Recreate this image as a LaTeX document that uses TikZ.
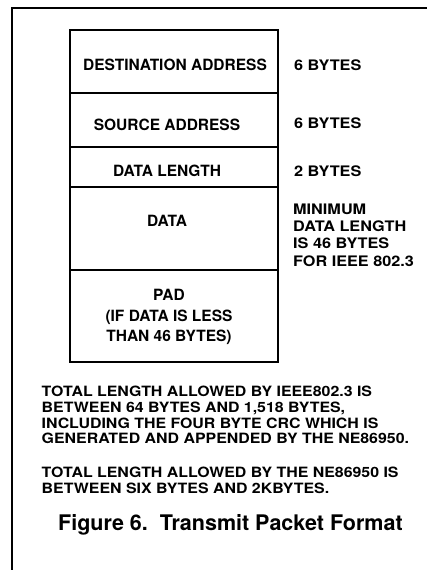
\documentclass[tikz,border=0pt]{standalone}
\usepackage{fontspec}
\setmainfont{TeX Gyre Heros}
\newfontfamily\widefont{TeX Gyre Heros}[FakeStretch=1.12]
\begin{document}
\begin{tikzpicture}[x=1pt, y=-1pt, line cap=rect]
	\tikzset{
		fieldtext/.style={font=\bfseries\fontsize{15.5}{20.5}\selectfont, inner sep=0pt, align=center},
		sidetext/.style={font=\widefont\bfseries\fontsize{14.5}{17.3}\selectfont, inner sep=0pt, align=left},
		notetext/.style={font=\widefont\bfseries\fontsize{14.2}{15.7}\selectfont, inner sep=0pt, align=left}
	}
	\useasboundingbox (0,0) rectangle (427,570);
	
	% Khung ngoài (chỉ cạnh trái và cạnh trên)
	\draw[line width=1.4pt] (12,570) -- (12,8) -- (427,8);
	
	% Các trường của gói tin
	\draw[line width=1.8pt] (70,30) rectangle (278,362);
	\foreach \yy in {93,147,187,270}
		\draw[line width=1.8pt] (70,\yy) -- (278,\yy);
	
	% Tên các trường
	\node[fieldtext, anchor=base] (dst) at (175,70.7) {DESTINATION ADDRESS};
	\node[fieldtext, anchor=base] (src) at (167,130) {SOURCE ADDRESS};
	\node[fieldtext, anchor=base] (len) at (167,176) {DATA LENGTH};
	\node[fieldtext, anchor=base] (data) at (167,226) {DATA};
	\node[fieldtext, anchor=north] (pad) at (169,289) {PAD\\(IF DATA IS LESS\\THAN 46 BYTES)};
	
	% Độ dài từng trường
	\node[sidetext, anchor=base west] (dstlen) at (294,70.7) {6 BYTES};
	\node[sidetext, anchor=base west] (srclen) at (294,128) {6 BYTES};
	\node[sidetext, anchor=base west] (lenlen) at (294,176) {2 BYTES};
	\node[sidetext, anchor=north west] (datamin) at (293,203.5) {MINIMUM\\DATA LENGTH\\IS 46 BYTES\\FOR IEEE 802.3};
	
	% Ghi chú bên dưới
	\node[notetext, anchor=north west] (ieee) at (41.5,386) {TOTAL LENGTH ALLOWED BY IEEE802.3 IS\\BETWEEN 64 BYTES AND 1,518 BYTES,\\INCLUDING THE FOUR BYTE CRC WHICH IS\\GENERATED AND APPENDED BY THE NE86950.};
	\node[notetext, anchor=north west] (ne) at (41.5,467) {TOTAL LENGTH ALLOWED BY THE NE86950 IS\\BETWEEN SIX BYTES AND 2KBYTES.};
	
	% Chú thích hình
	\node[font=\bfseries\fontsize{21.5}{24}\selectfont, inner sep=0pt, anchor=base west] (caption) at (58,530) {Figure 6.\ \ Transmit Packet Format};
\end{tikzpicture}
\end{document}
